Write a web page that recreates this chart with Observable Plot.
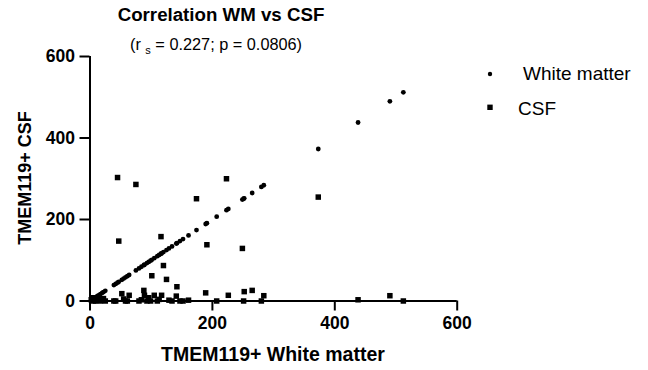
<!DOCTYPE html>
<html>
<head>
<meta charset="utf-8">
<script src="https://cdn.jsdelivr.net/npm/d3@7"></script>
<script src="https://cdn.jsdelivr.net/npm/@observablehq/plot@0.6"></script>
<style>
  html, body { margin: 0; padding: 0; background: #fff; }
  svg { display: block; }
</style>
</head>
<body>
<div id="chart"></div>
<script>
// TMEM119+ counts per subject: white matter (x) and CSF (y)
const whiteMatter = [2, 4, 6, 9, 12, 14, 17, 20, 22, 25,
  39, 42, 45, 47, 52, 55, 58, 61, 64, 75,
  80, 84, 88, 89, 93, 96, 99, 101, 105, 110,
  113, 116, 117, 120, 125, 129, 134, 141, 142, 147,
  152, 161, 174, 189, 191, 207, 223, 226, 249, 251,
  252, 265, 280, 284, 373, 438, 490, 512];
const csfValues = [3, 8, 0, 0, 5, 10, 0, 2, 6, 0,
  0, 0, 303, 147, 18, 5, 0, 0, 14, 286,
  0, 3, 26, 14, 0, 8, 0, 62, 14, 0,
  4, 158, 14, 87, 53, 2, 0, 12, 35, 0,
  0, 2, 251, 20, 138, 0, 300, 14, 129, 0,
  23, 26, 0, 13, 255, 3, 13, 0];
const xTicks = [0, 200, 400, 600];
const yTicks = [0, 200, 400, 600];
const titleText = "Correlation WM vs CSF";
const xLabel = "TMEM119+ White matter";
const yLabel = "TMEM119+ CSF";
const seriesNames = ["White matter", "CSF"];

const data = whiteMatter.map((w, i) => ({wm: w, csf: csfValues[i]}));

const FONT = "'Liberation Sans', Arial, Helvetica, sans-serif";

const svg = Plot.plot({
  width: 648,
  height: 370,
  marginLeft: 89.5,
  marginRight: 191.3,
  marginTop: 56,
  marginBottom: 69.5,
  style: {fontFamily: FONT, fontSize: "17px", fontWeight: "bold", color: "black", background: "white"},
  x: {domain: [0, 600]},
  y: {domain: [0, 600]},
  marks: [
    Plot.axisX({ticks: xTicks, tickSize: 10, tickPadding: 6, strokeWidth: 2, stroke: "black", fill: "black", fontSize: 17.5, fontWeight: "bold", label: null}),
    Plot.axisY({ticks: yTicks, tickSize: 10, tickPadding: 5, strokeWidth: 2, stroke: "black", fill: "black", fontSize: 17.5, fontWeight: "bold", label: null}),
    Plot.ruleX([0], {y1: 0, y2: 600, stroke: "black", strokeWidth: 2}),
    Plot.ruleY([0], {x1: 0, x2: 600, stroke: "black", strokeWidth: 2}),
    Plot.dot(data, {x: "wm", y: "csf", symbol: "square", r: 3.1, fill: "black", stroke: "none"}),
    Plot.dot(data, {x: "wm", y: "wm", r: 2.4, fill: "black", stroke: "none"})
  ]
});

const s = d3.select(svg);

// title
s.append("text").attr("x", 221).attr("y", 21).attr("text-anchor", "middle")
  .attr("font-family", FONT).attr("font-size", 18.7).attr("font-weight", "bold")
  .attr("fill", "black").text(titleText);

// subtitle with subscript
const sub = s.append("text").attr("x", 216).attr("y", 50).attr("text-anchor", "middle")
  .attr("font-family", FONT).attr("font-size", 16.3).attr("font-weight", "normal").attr("fill", "black");
sub.append("tspan").text("(r ");
sub.append("tspan").attr("font-size", 11).attr("dy", 4).text("s");
sub.append("tspan").attr("dy", -4).text(" = 0.227; p = 0.0806)");

// axis labels
s.append("text").attr("x", 273).attr("y", 361).attr("text-anchor", "middle")
  .attr("font-family", FONT).attr("font-size", 19.5).attr("font-weight", "bold")
  .attr("fill", "black").text(xLabel);
s.append("text").attr("transform", "translate(31,178) rotate(-90)").attr("text-anchor", "middle")
  .attr("font-family", FONT).attr("font-size", 18).attr("font-weight", "bold")
  .attr("fill", "black").text(yLabel);

// legend
s.append("circle").attr("cx", 490).attr("cy", 74).attr("r", 2.2).attr("fill", "black");
s.append("text").attr("x", 523).attr("y", 80).attr("text-anchor", "start").attr("font-family", FONT).attr("font-size", 19)
  .attr("font-weight", "normal").attr("fill", "black").text(seriesNames[0]);
s.append("rect").attr("x", 487.3).attr("y", 104.6).attr("width", 5.4).attr("height", 5.4).attr("fill", "black");
s.append("text").attr("x", 518).attr("y", 115).attr("text-anchor", "start").attr("font-family", FONT).attr("font-size", 19)
  .attr("font-weight", "normal").attr("fill", "black").text(seriesNames[1]);

document.getElementById("chart").appendChild(svg);
</script>
</body>
</html>
